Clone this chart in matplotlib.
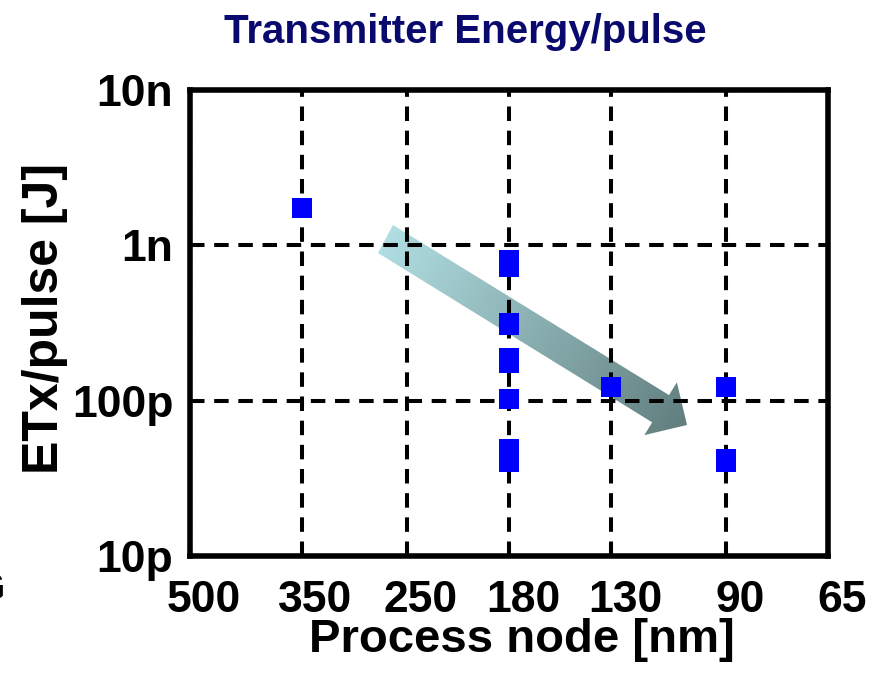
import numpy as np
import matplotlib.pyplot as plt
from matplotlib.patches import Polygon
from matplotlib.transforms import ScaledTranslation

plt.rcParams['font.family'] = ['Liberation Sans', 'DejaVu Sans']
plt.rcParams['font.weight'] = 'bold'

# process node [nm] and transmitter energy per pulse [J]
node = [350, 180, 180, 180, 180, 180, 180, 180, 180, 180, 130, 90, 90, 90]
energy = [1.75e-9, 0.80e-9, 0.73e-9, 0.318e-9, 0.309e-9, 0.187e-9, 0.176e-9,
          0.103e-9, 49e-12, 40e-12, 122e-12, 123e-12, 42e-12, 40e-12]

xticks = [500, 350, 250, 180, 130, 90, 65]
yticks = [1e-11, 1e-10, 1e-9, 1e-8]
ylabels = ['10p', '100p', '1n', '10n']

W, H = 879, 676
fig = plt.figure(figsize=(W / 100, H / 100), dpi=100)
L, R, T, B = 190, 828, 90, 556
ax = fig.add_axes([L / W, 1 - B / H, (R - L) / W, (B - T) / H])

ax.set_xscale('log')
ax.set_yscale('log')
ax.set_xlim(500, 65)
ax.set_ylim(1e-11, 1e-8)

ax.set_axisbelow(True)
ax.grid(True, which='major', color='black', linestyle=(0, (3.6, 2.4)), linewidth=2.9)
ax.xaxis.set_ticks(xticks)
ax.xaxis.set_ticklabels([str(v) for v in xticks])
ax.xaxis.set_minor_locator(plt.NullLocator())
ax.yaxis.set_ticks(yticks)
ax.yaxis.set_ticklabels(ylabels)
ax.yaxis.set_minor_locator(plt.NullLocator())
ax.tick_params(direction='in', length=8, width=2.9, labelsize=32)
ax.tick_params(axis='x', pad=17)
ax.tick_params(axis='y', pad=12)
for s in ax.spines.values():
    s.set_linewidth(4)

off = ScaledTranslation(14 / 100, 0, fig.dpi_scale_trans)
for lab in ax.get_xticklabels():
    lab.set_transform(lab.get_transform() + off)

# gradient trend arrow (pixel coords, y down)
tail_u = np.array([393, 225.0])
tail_l = np.array([378, 253.0])
tip = np.array([687, 425.0])
tail_m = (tail_u + tail_l) / 2
d = tip - tail_m
Ltot = np.hypot(*d)
d = d / Ltot
n = np.array([-d[1], d[0]])
base = tip - 31 * d
pts = [tail_u, base - 16 * n, base - 31 * n, tip, base + 31 * n, base + 16 * n, tail_l]
pts_ax = [((p[0] - L) / (R - L), (B - p[1]) / (B - T)) for p in pts]

px, py = np.meshgrid(np.arange(L, R) + 0.5, np.arange(T, B) + 0.5)
t = np.clip(((px - tail_m[0]) * d[0] + (py - tail_m[1]) * d[1]) / Ltot, 0, 1)
c0 = np.array([176, 222, 226]) / 255
c1 = np.array([98, 126, 126]) / 255
img = c0[None, None, :] * (1 - t[..., None]) + c1[None, None, :] * t[..., None]

poly = Polygon(pts_ax, closed=True, transform=ax.transAxes, facecolor='none', edgecolor='none')
ax.add_patch(poly)
im = ax.imshow(img, extent=(0, 1, 0, 1), transform=ax.transAxes, aspect='auto',
               origin='upper', zorder=0.3, interpolation='bilinear')
im.set_clip_path(poly)
ax.set_xlim(500, 65)
ax.set_ylim(1e-11, 1e-8)

ax.plot(node, energy, linestyle='none', marker='s', markersize=15,
        color='#0000ff', markeredgewidth=0, zorder=3)

fig.text(465 / W, 1 - 32 / H, 'Transmitter Energy/pulse', ha='center', va='center',
         fontsize=29, color='#0a0a6e')
fig.text(522 / W, 1 - 640 / H, 'Process node [nm]', ha='center', va='center', fontsize=34)
fig.text(45 / W, 1 - 319 / H, 'ETx/pulse [J]', ha='center', va='center',
         fontsize=36, rotation=90)
fig.text(5 / W, 1 - 590 / H, 'G', ha='right', va='center', fontsize=30)

fig.savefig('out.png', dpi=100)
